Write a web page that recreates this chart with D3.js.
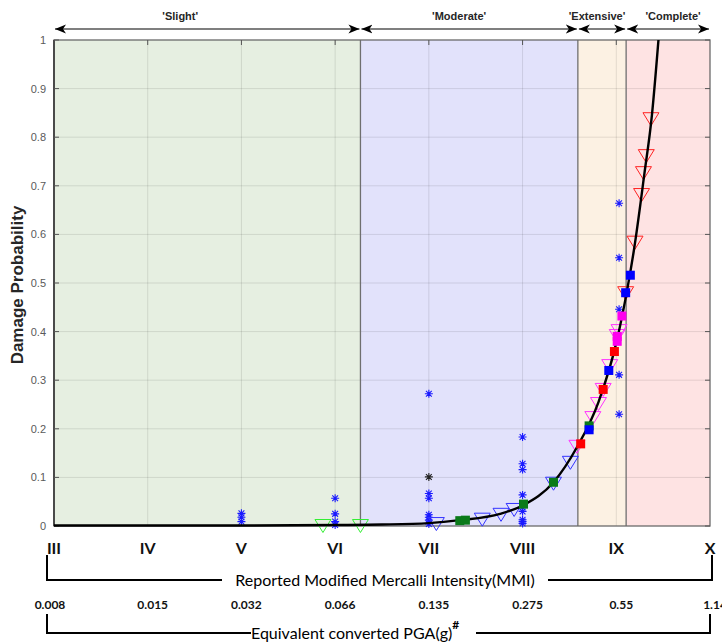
<!DOCTYPE html>
<html>
<head>
<meta charset="utf-8">
<script src="https://cdn.jsdelivr.net/npm/d3@7/dist/d3.min.js"></script>
<style>
    body { margin: 0; background: #fff; }
    .ylab { font-family: "Liberation Sans", Arial, sans-serif; font-size: 11px; fill: #5a5a5a; }
    .state { font-family: "Liberation Sans", Arial, sans-serif; font-size: 11px; font-weight: bold; fill: #262626; }
    .mmi { font-family: Lato, "Open Sans", sans-serif; font-size: 16px; font-weight: bold; fill: #111; }
    .pga { font-family: Lato, "Open Sans", sans-serif; font-size: 12px; font-weight: bold; fill: #111; }
    .cap { font-family: Lato, "Open Sans", sans-serif; font-size: 16px; fill: #000; }
</style>
</head>
<body>
<div id="chart"></div>
<script>
// ---- data ----
var mmiValues = [3, 4, 5, 6, 7, 8, 9, 10];
var mmiLabels = ["III", "IV", "V", "VI", "VII", "VIII", "IX", "X"];
var pgaLabels = ["0.008", "0.015", "0.032", "0.066", "0.135", "0.275", "0.55", "1.14"];
var yTicks = [0, 0.1, 0.2, 0.3, 0.4, 0.5, 0.6, 0.7, 0.8, 0.9, 1];

var stateNames = ["'Slight'", "'Moderate'", "'Extensive'", "'Complete'"];
var stateStart = [3, 6.27, 8.59, 9.105];
var stateEnd = [6.27, 8.59, 9.105, 10];

// fitted fragility curve (MMI, probability)
var curveM = [3.0, 5.0, 6.0, 6.5, 7.0, 7.33, 7.76, 8.01, 8.33, 8.58, 8.81, 9.01, 9.12, 9.19, 9.30, 9.38, 9.45];
var curveP = [0.001, 0.001, 0.002, 0.003, 0.006, 0.012, 0.025, 0.043, 0.09, 0.162, 0.255, 0.385, 0.49, 0.57, 0.725, 0.845, 1.0];

// observed damage ratios (blue asterisks)
var obsM = [5, 5, 5, 6, 6, 6, 6,
            7, 7, 7, 7, 7, 7, 7,
            8, 8, 8, 8, 8, 8, 8, 8, 8,
            9.03, 9.03, 9.03, 9.03, 9.03];
var obsP = [0.026, 0.018, 0.009, 0.057, 0.025, 0.009, 0.002,
            0.272, 0.067, 0.057, 0.023, 0.018, 0.012, 0.004,
            0.183, 0.128, 0.116, 0.064, 0.038, 0.03, 0.013, 0.009, 0.005,
            0.664, 0.552, 0.446, 0.311, 0.23];
var outlierM = [7];
var outlierP = [0.101];

// open triangles
var triGreenM = [5.87, 6.27];
var triGreenP = [0, 0];
var triBlueM = [7.08, 7.57, 7.77, 7.91, 8.33, 8.51];
var triBlueP = [0.004, 0.013, 0.023, 0.033, 0.087, 0.13];
var triMagM = [8.58, 8.75, 8.81, 8.86, 8.93, 9.01, 9.03];
var triMagP = [0.163, 0.222, 0.251, 0.28, 0.329, 0.391, 0.401];
var triRedM = [9.10, 9.20, 9.27, 9.29, 9.32, 9.37];
var triRedP = [0.479, 0.583, 0.681, 0.726, 0.761, 0.837];

// filled squares
var sqGreenM = [7.33, 7.39, 8.01, 8.33, 8.71];
var sqGreenP = [0.011, 0.012, 0.045, 0.09, 0.206];
var sqBlueM = [8.71, 8.92, 9.10, 9.15];
var sqBlueP = [0.198, 0.32, 0.48, 0.516];
var sqRedM = [8.62, 8.86, 8.98];
var sqRedP = [0.169, 0.281, 0.359];
var sqMagM = [9.01, 9.01, 9.06];
var sqMagP = [0.38, 0.39, 0.432];

// ---- layout ----
var W = 722, H = 644;
var pL = 54, pR = 710, pT = 40, pB = 526;
var stateFill = ["#e6efe1", "#e2e2fb", "#fcf1e3", "#fee3e3"];
var labelShift = [-27, -10, -5, 5];

var x = d3.scaleLinear().domain([3, 10]).range([pL, pR]);
var y = d3.scaleLinear().domain([0, 1]).range([pB, pT]);

var svg = d3.select("#chart").append("svg")
    .attr("width", W)
    .attr("height", H);

var defs = svg.append("defs");
defs.append("marker")
    .attr("id", "ah")
    .attr("viewBox", "0 -5 12 10")
    .attr("refX", 11).attr("refY", 0)
    .attr("markerWidth", 12).attr("markerHeight", 10)
    .attr("markerUnits", "userSpaceOnUse")
    .attr("orient", "auto-start-reverse")
    .append("path")
    .attr("d", "M0,-4.5L11,0L0,4.5L3,0Z")
    .attr("fill", "#000");

// damage state bands
svg.append("g").selectAll("rect")
    .data(stateNames).enter()
    .append("rect")
    .attr("x", function (d, i) { return x(stateStart[i]); })
    .attr("y", pT)
    .attr("width", function (d, i) { return x(stateEnd[i]) - x(stateStart[i]); })
    .attr("height", pB - pT)
    .attr("fill", function (d, i) { return stateFill[i]; });

// grid
var grid = svg.append("g").attr("stroke", "#000").attr("stroke-opacity", 0.1).attr("stroke-width", 1);
grid.selectAll(".gy").data(yTicks.slice(1, -1)).enter()
    .append("line")
    .attr("x1", pL).attr("x2", pR)
    .attr("y1", function (d) { return y(d); })
    .attr("y2", function (d) { return y(d); });
grid.selectAll(".gx").data(mmiValues.slice(1, -1)).enter()
    .append("line")
    .attr("y1", pT).attr("y2", pB)
    .attr("x1", function (d) { return x(d); })
    .attr("x2", function (d) { return x(d); });

// band boundaries
svg.append("g").selectAll("line")
    .data(stateStart.slice(1)).enter()
    .append("line")
    .attr("x1", function (d) { return x(d); })
    .attr("x2", function (d) { return x(d); })
    .attr("y1", pT).attr("y2", pB)
    .attr("stroke", "#6f6f6f").attr("stroke-width", 1.3);

// frame + ticks
svg.append("rect")
    .attr("x", pL).attr("y", pT)
    .attr("width", pR - pL).attr("height", pB - pT)
    .attr("fill", "none").attr("stroke", "#6a6a6a").attr("stroke-width", 1.3);
svg.append("line")
    .attr("x1", pL).attr("x2", pL).attr("y1", pT).attr("y2", pB)
    .attr("stroke", "#4a4a4a").attr("stroke-width", 2);

var ticks = svg.append("g").attr("stroke", "#555").attr("stroke-width", 1);
ticks.selectAll(".tl").data(yTicks).enter().append("line")
    .attr("x1", pL).attr("x2", pL + 5)
    .attr("y1", function (d) { return y(d); }).attr("y2", function (d) { return y(d); });
ticks.selectAll(".tr").data(yTicks).enter().append("line")
    .attr("x1", pR).attr("x2", pR - 5)
    .attr("y1", function (d) { return y(d); }).attr("y2", function (d) { return y(d); });
ticks.selectAll(".tt").data(mmiValues.slice(1, -1)).enter().append("line")
    .attr("x1", function (d) { return x(d); }).attr("x2", function (d) { return x(d); })
    .attr("y1", pT).attr("y2", pT + 5);

svg.append("g").selectAll("text")
    .data(yTicks).enter()
    .append("text")
    .attr("class", "ylab")
    .attr("x", pL - 8)
    .attr("y", function (d) { return y(d) + 4; })
    .attr("text-anchor", "end")
    .text(function (d) { return d3.format("")(d); });

svg.append("text")
    .attr("transform", "translate(23," + ((pT + pB) / 2 + 2) + ") rotate(-90)")
    .attr("text-anchor", "middle")
    .attr("font-family", "Liberation Sans, Arial, sans-serif")
    .attr("font-size", "17px")
    .attr("font-weight", "bold")
    .attr("fill", "#262626")
    .text("Damage Probability");

// state arrows on top
var arrows = svg.append("g");
arrows.selectAll("line").data(stateNames).enter()
    .append("line")
    .attr("x1", function (d, i) { return x(stateStart[i]) + 1; })
    .attr("x2", function (d, i) { return x(stateEnd[i]) - 1; })
    .attr("y1", 29).attr("y2", 29)
    .attr("stroke", "#000").attr("stroke-width", 1.2)
    .attr("marker-start", "url(#ah)")
    .attr("marker-end", "url(#ah)");
arrows.selectAll("text").data(stateNames).enter()
    .append("text")
    .attr("class", "state")
    .attr("x", function (d, i) { return (x(stateStart[i]) + x(stateEnd[i])) / 2 + labelShift[i]; })
    .attr("y", 20)
    .attr("text-anchor", "middle")
    .text(function (d) { return d; });

// ---- marks ----
function tri() { return "M-8,-6.5L8,-6.5L0,6.5Z"; }
function star() { return "M-4,0H4M0,-4V4M-2.9,-2.9L2.9,2.9M-2.9,2.9L2.9,-2.9"; }

function drawAsterisks(ms, ps, color) {
    svg.append("g").selectAll("path").data(ms).enter()
        .append("path")
        .attr("transform", function (d, i) { return "translate(" + x(d) + "," + y(ps[i]) + ")"; })
        .attr("d", star())
        .attr("stroke", color).attr("stroke-width", 1.1).attr("fill", "none");
}
function drawTriangles(ms, ps, color) {
    svg.append("g").selectAll("path").data(ms).enter()
        .append("path")
        .attr("transform", function (d, i) { return "translate(" + x(d) + "," + y(ps[i]) + ")"; })
        .attr("d", tri())
        .attr("stroke", color).attr("stroke-width", 1).attr("fill", "none");
}
function drawSquares(ms, ps, color) {
    svg.append("g").selectAll("rect").data(ms).enter()
        .append("rect")
        .attr("x", function (d) { return x(d) - 4.5; })
        .attr("y", function (d, i) { return y(ps[i]) - 4.5; })
        .attr("width", 9).attr("height", 9)
        .attr("fill", color);
}

drawAsterisks(obsM, obsP, "#1a1aff");
drawAsterisks(outlierM, outlierP, "#222");

drawTriangles(triGreenM, triGreenP, "#33ee33");
drawTriangles(triBlueM, triBlueP, "#3333ff");
drawTriangles(triMagM, triMagP, "#ff33ff");
drawTriangles(triRedM, triRedP, "#ff2222");

var line = d3.line()
    .x(function (d) { return x(d); })
    .y(function (d, i) { return y(curveP[i]); })
    .curve(d3.curveMonotoneX);
svg.append("path")
    .datum(curveM)
    .attr("d", line)
    .attr("fill", "none")
    .attr("stroke", "#000")
    .attr("stroke-width", 2.4);

drawSquares(sqGreenM, sqGreenP, "#0a7a1a");
drawSquares(sqBlueM, sqBlueP, "#0000ff");
drawSquares(sqRedM, sqRedP, "#ff0000");
drawSquares(sqMagM, sqMagP, "#ff00ee");

// ---- bottom scales ----
svg.append("g").selectAll("text").data(mmiValues).enter()
    .append("text")
    .attr("class", "mmi")
    .attr("x", function (d) { return x(d); })
    .attr("y", 554)
    .attr("text-anchor", "middle")
    .text(function (d, i) { return mmiLabels[i]; });

svg.append("g").selectAll("text").data(mmiValues).enter()
    .append("text")
    .attr("class", "pga")
    .attr("x", function (d, i) { return i == 0 ? x(d) - 4 : x(d) + 5; })
    .attr("y", 609)
    .attr("text-anchor", "middle")
    .text(function (d, i) { return pgaLabels[i]; });

function bracket(yTop, yLine, x0, x1, gap0, gap1) {
    var g = svg.append("g").attr("stroke", "#000").attr("stroke-width", 2).attr("fill", "none");
    g.append("path").attr("d", "M" + x0 + "," + yTop + "V" + yLine + "H" + gap0);
    g.append("path").attr("d", "M" + gap1 + "," + yLine + "H" + x1 + "V" + yTop);
}
bracket(555, 580, 47, 712, 222, 548);
svg.append("text").attr("class", "cap")
    .attr("x", 385).attr("y", 586)
    .attr("text-anchor", "middle")
    .text("Reported Modified Mercalli Intensity(MMI)");

bracket(614, 633, 47, 710, 251, 476);
var cap2 = svg.append("text").attr("class", "cap")
    .attr("x", 251).attr("y", 639);
cap2.append("tspan").text("Equivalent converted PGA(g)");
cap2.append("tspan").attr("dy", -10).attr("font-size", "12px").attr("font-weight", "bold").text("#");
</script>
</body>
</html>
